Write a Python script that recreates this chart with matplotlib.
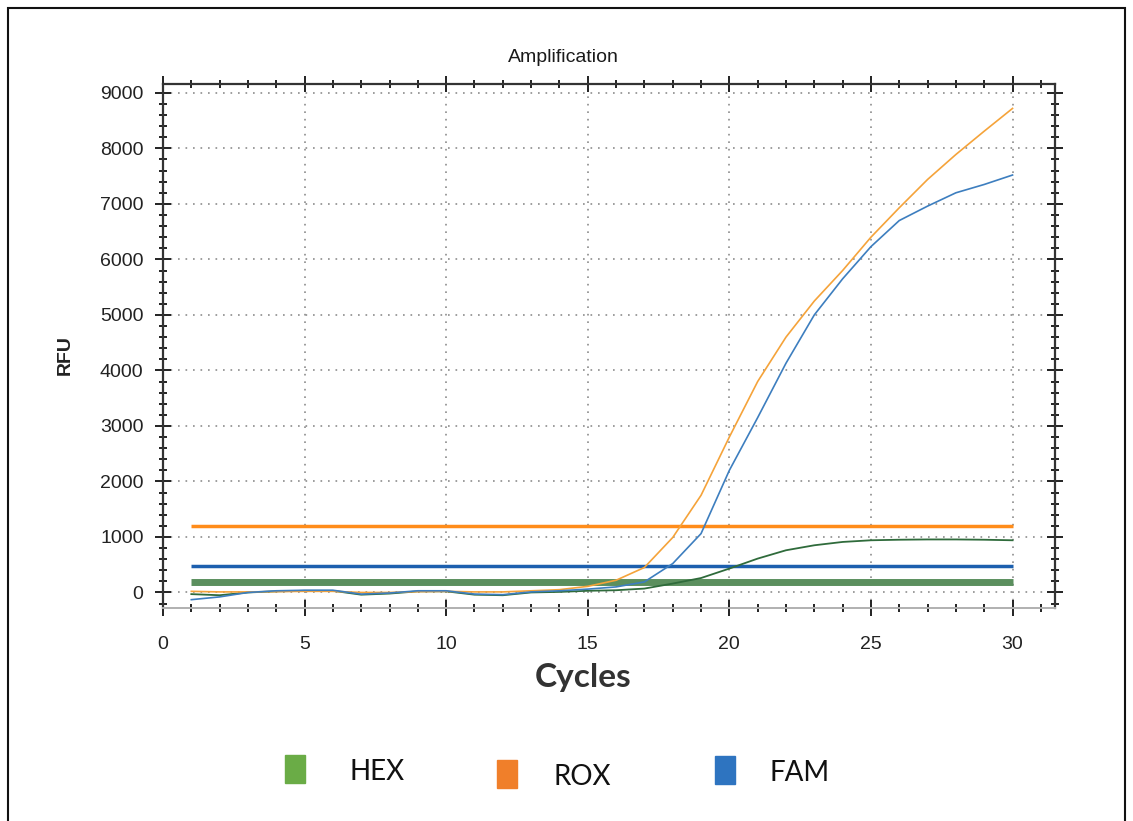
import matplotlib
matplotlib.use("Agg")
import matplotlib.pyplot as plt
from matplotlib.patches import Rectangle
from matplotlib.ticker import MultipleLocator

# --- data ---
cycles = list(range(1, 31))
rox = [20, 10, 10, 15, 20, 20, 0, 0, 15, 20, 10, 10, 30, 50, 110,
       220, 450, 990, 1750, 2800, 3800, 4600, 5250, 5800, 6400,
       6930, 7440, 7890, 8310, 8720]
fam = [-130, -80, 0, 30, 40, 40, -30, -10, 30, 30, -30, -40, 10, 30, 60,
       100, 190, 520, 1060, 2200, 3150, 4130, 5000, 5650, 6230,
       6700, 6960, 7200, 7350, 7520]
hex_ = [-30, -50, 0, 20, 30, 30, -40, -20, 20, 20, -40, -50, 0, 10, 30,
        40, 70, 160, 260, 430, 610, 760, 850, 910, 940,
        950, 955, 955, 950, 940]

thresholds = {"ROX": 1200, "FAM": 480, "HEX": 195}
legend_labels = ["HEX", "ROX", "FAM"]
legend_colors = ["#6aac46", "#f07f2a", "#2e74c0"]

W, H = 1133, 821
fig = plt.figure(figsize=(W / 100, H / 100), dpi=100)
ax = fig.add_axes([163 / W, 1 - 608 / H, (1055 - 163) / W, (608 - 84) / H])

# threshold lines
ax.hlines(thresholds["ROX"], cycles[0], cycles[-1], color="#ff8c1a", lw=2.5, zorder=3)
ax.hlines(thresholds["FAM"], cycles[0], cycles[-1], color="#1c5fae", lw=2.5, zorder=3)
ax.hlines(thresholds["HEX"], cycles[0], cycles[-1], color="#5b8f5e", lw=5, zorder=3)

# amplification curves
ax.plot(cycles, hex_, color="#2f6b3b", lw=1.3, zorder=4)
ax.plot(cycles, rox, color="#f5a33a", lw=1.2, zorder=4)
ax.plot(cycles, fam, color="#3d7ebf", lw=1.2, zorder=4)

ax.set_xlim(0, 31.5)
ax.set_ylim(-280, 9160)
ax.xaxis.set_major_locator(MultipleLocator(5))
ax.xaxis.set_minor_locator(MultipleLocator(1))
ax.yaxis.set_major_locator(MultipleLocator(1000))
ax.yaxis.set_minor_locator(MultipleLocator(200))
ax.grid(True, which="major", color="#8c8c8c", ls=(0, (1, 3.5)), lw=1.2)

ax.tick_params(which="both", direction="inout", top=True, right=True,
               color="#222222", width=1.4)
ax.tick_params(which="major", length=12)
ax.tick_params(which="minor", length=6)
ax.tick_params(axis="x", which="major", pad=14)
ax.tick_params(axis="y", which="major", pad=8)
for lab in ax.get_xticklabels() + ax.get_yticklabels():
    lab.set_family("Liberation Sans")
    lab.set_fontsize(14)
    lab.set_color("#222222")

for side in ["left", "top", "right"]:
    ax.spines[side].set_color("#333333")
    ax.spines[side].set_linewidth(1.6)
ax.spines["bottom"].set_color("#b0b0b0")
ax.spines["bottom"].set_linewidth(1.4)

fig.text(563 / W, 1 - 57 / H, "Amplification", ha="center", va="center",
         family="Liberation Sans", fontsize=14, color="#1a1a1a")
fig.text(65 / W, 1 - 355 / H, "RFU", ha="center", va="center", rotation=90,
         family="Liberation Sans", fontsize=14, fontweight="bold", color="#222222")
fig.text(583 / W, 1 - 677 / H, "Cycles", ha="center", va="center",
         family="Lato", fontsize=24, fontweight="bold", color="#333333")

# legend squares and labels
sq_x = [285, 497, 715]
sq_y = [755, 760, 756]
txt_x = [350, 553, 770]
txt_y = [772, 777, 773]
for lbl, col, sx, sy, tx, ty in zip(legend_labels, legend_colors, sq_x, sq_y, txt_x, txt_y):
    fig.patches.append(Rectangle((sx / W, 1 - (sy + 28) / H), 20 / W, 28 / H,
                                 transform=fig.transFigure, color=col))
    fig.text(tx / W, 1 - ty / H, lbl, ha="left", va="center",
             family="Lato", fontsize=20, color="#111111")

# outer frame
fig.patches.append(Rectangle((8 / W, -0.05), (1125 - 8) / W, 1.05 - 8 / H,
                             transform=fig.transFigure, fill=False,
                             edgecolor="#111111", lw=1.5))

fig.savefig("out.png", dpi=100)
